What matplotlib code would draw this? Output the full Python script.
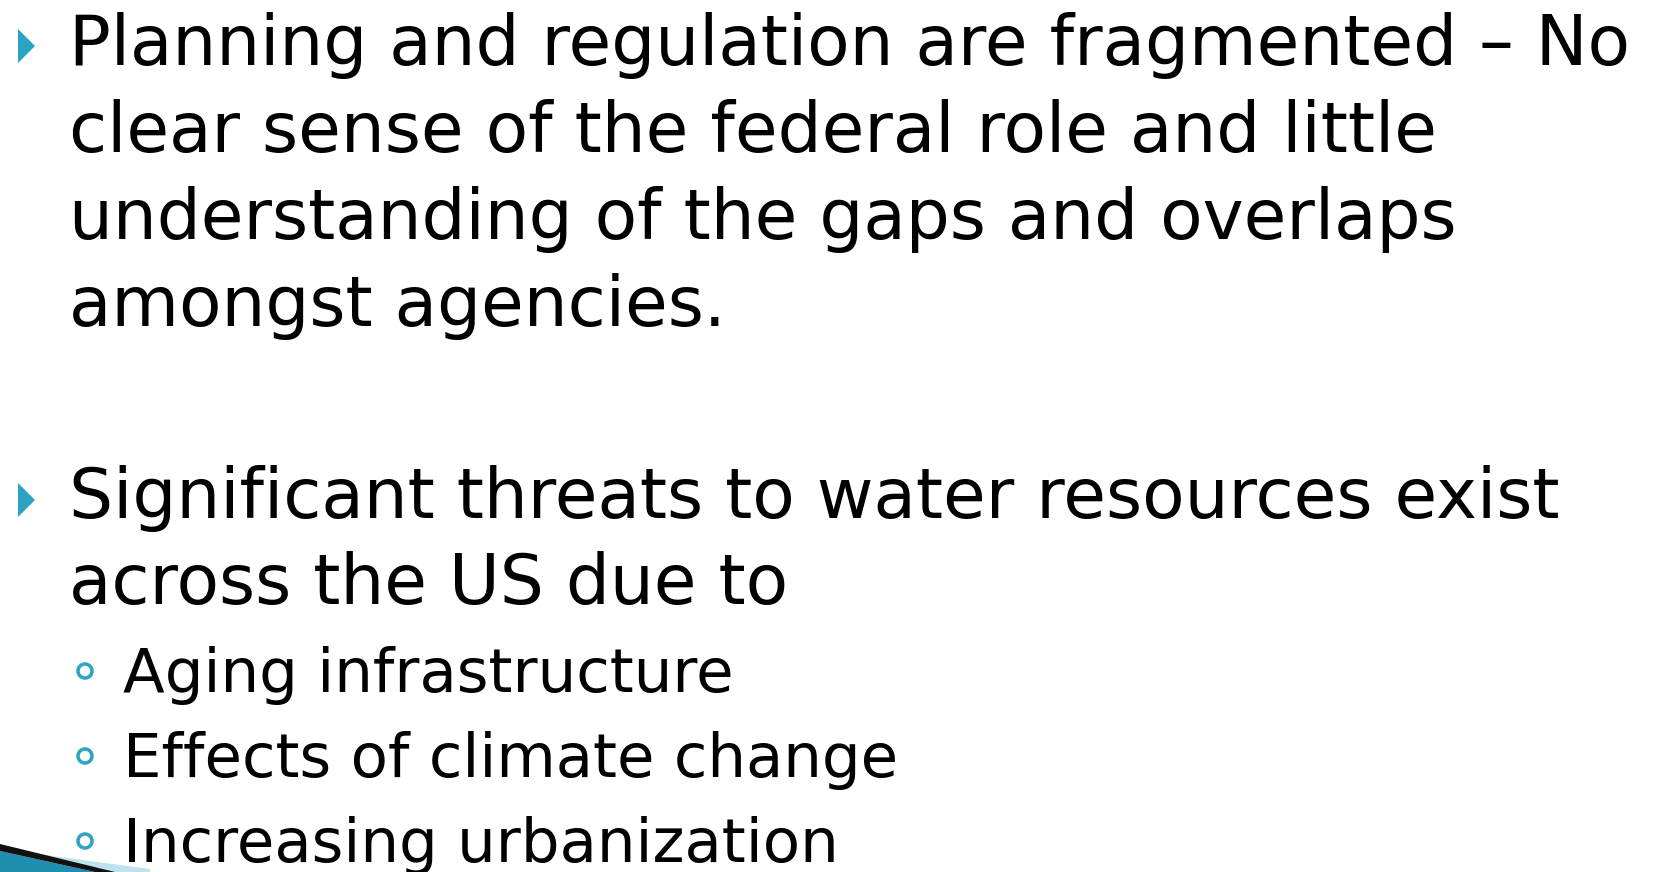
import matplotlib.pyplot as plt
from matplotlib.patches import Polygon, Circle

# slide text
bullet1 = ["Planning and regulation are fragmented \u2013 No",
           "clear sense of the federal role and little",
           "understanding of the gaps and overlaps",
           "amongst agencies."]
bullet2 = ["Significant threats to water resources exist",
           "across the US due to"]
subbullets = ["Aging infrastructure",
              "Effects of climate change",
              "Increasing urbanization"]

W, H = 1655, 872
accent = '#2CA3C2'

fig = plt.figure(figsize=(W / 100, H / 100), dpi=100)
ax = fig.add_axes([0, 0, 1, 1])
ax.set_xlim(0, W)
ax.set_ylim(H, 0)
ax.axis('off')

# fit main font size so the first line spans the same width as in the slide
probe = ax.text(0, 0, bullet1[0], fontsize=40, family='DejaVu Sans')
fig.canvas.draw()
w = probe.get_window_extent().width
probe.remove()
fs = 40 * (1638 - 69) / w * 0.995
sub_fs = fs * 0.88

def tri(y):
    ax.add_patch(Polygon([(18, y - 17), (18, y + 17), (35, y)],
                         closed=True, color=accent, lw=0))

# first bullet
tri(46)
for i, line in enumerate(bullet1):
    ax.text(69, 65 + i * 87, line, fontsize=fs, va='baseline', color='black')

# second bullet
tri(500)
for i, line in enumerate(bullet2):
    ax.text(69, 518 + i * 86, line, fontsize=fs, va='baseline', color='black')

# sub bullets
for i, line in enumerate(subbullets):
    yb = 692 + i * 85
    ax.add_patch(Circle((85, yb - 21), 7, fill=False, ec=accent, lw=2.5))
    ax.text(123, yb, line, fontsize=sub_fs, va='baseline', color='black')

# corner decoration
ax.add_patch(Polygon([(0, 851), (95, 872), (0, 872)], color='#1E8FAE', lw=0))
ax.add_patch(Polygon([(30, 853), (150, 869), (150, 872), (110, 872)],
                     color='#BFE3EE', lw=0))
ax.add_patch(Polygon([(0, 844), (115, 872), (95, 872), (0, 851)],
                     color='#111111', lw=0))

fig.savefig('out.png', dpi=100)
